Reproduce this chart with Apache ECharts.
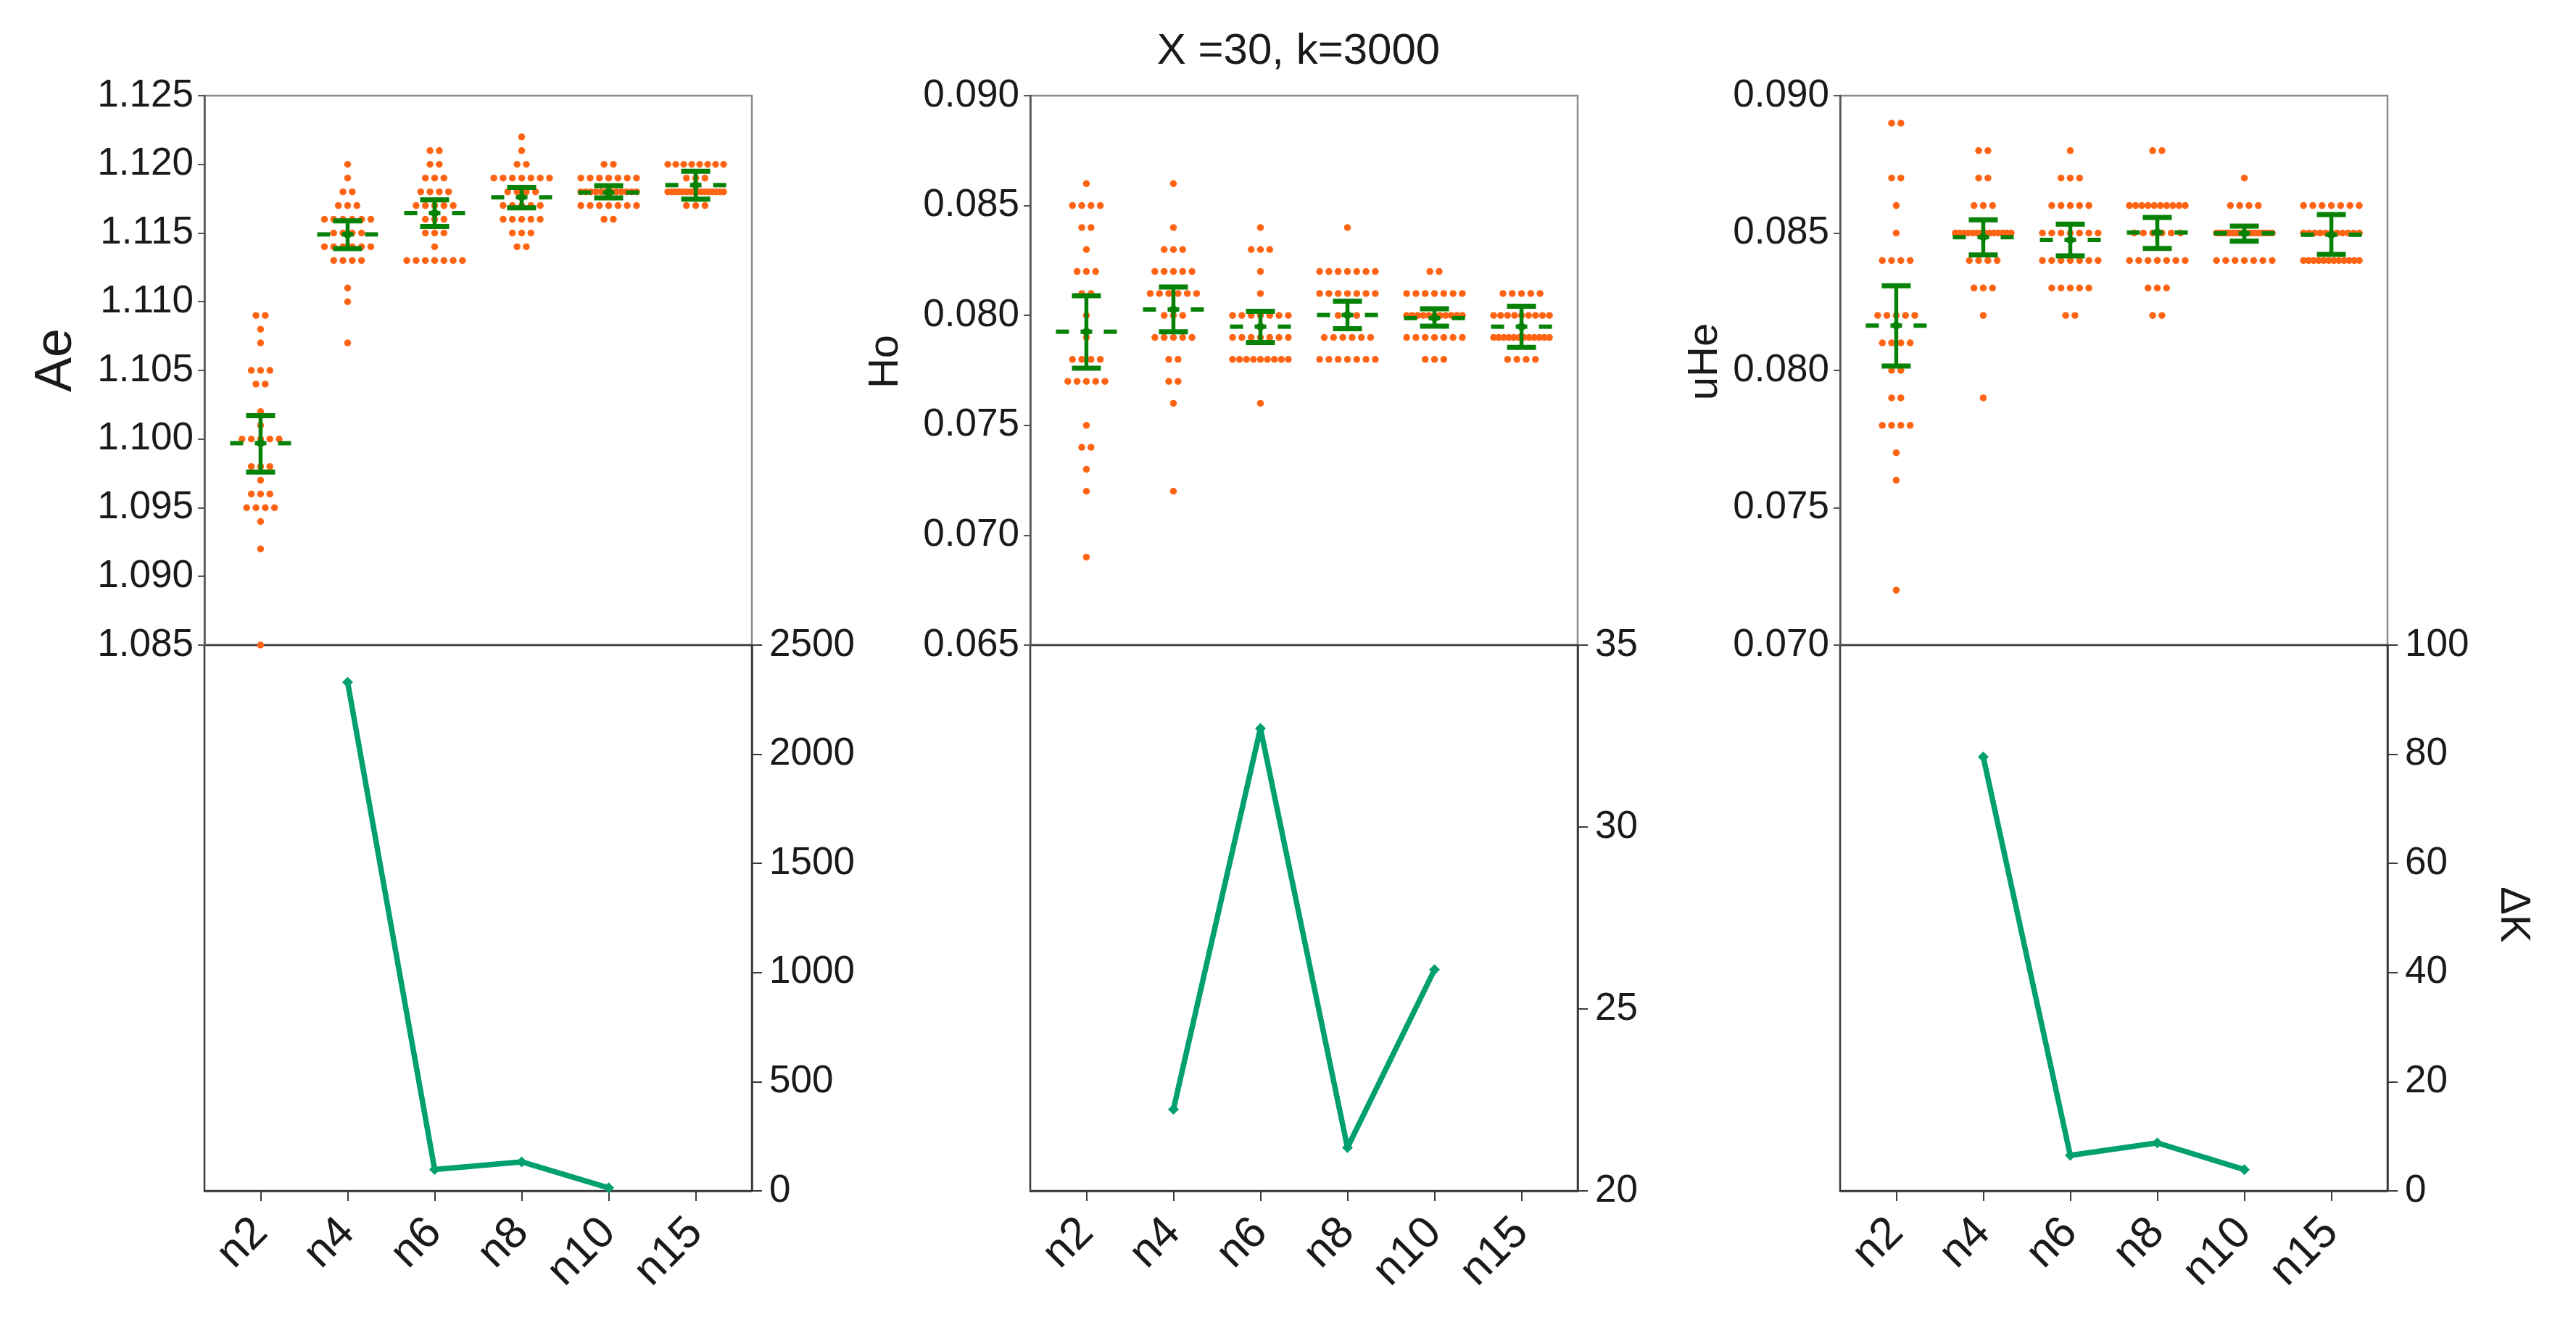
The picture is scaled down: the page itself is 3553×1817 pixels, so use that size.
<!DOCTYPE html>
<html><head><meta charset="utf-8">
<script src="https://cdn.jsdelivr.net/npm/echarts@6/dist/echarts.min.js"></script>
<style>html,body{margin:0;padding:0;background:#fff}#c{width:3553px;height:1817px}</style>
</head><body><div id="c"></div>
<script>
// ---------- data ----------
const categories = ['n2', 'n4', 'n6', 'n8', 'n10', 'n15'];
const titleText = 'X =30, k=3000';

// swarm levels per group: [value, number of points at that value]
const aeSwarm = [
  [[1.109,2],[1.108,1],[1.107,1],[1.105,3],[1.104,2],[1.102,1],[1.101,1],[1.100,5],[1.098,3],[1.097,1],[1.096,3],[1.095,4],[1.094,1],[1.092,1],[1.085,1]],
  [[1.120,1],[1.119,1],[1.118,2],[1.117,3],[1.116,6],[1.115,4],[1.114,6],[1.113,4],[1.111,1],[1.110,1],[1.107,1]],
  [[1.121,2],[1.120,2],[1.119,3],[1.118,4],[1.117,5],[1.116,3],[1.115,3],[1.114,1],[1.113,7]],
  [[1.122,1],[1.121,1],[1.120,2],[1.119,7],[1.118,4],[1.117,5],[1.116,5],[1.115,3],[1.114,2]],
  [[1.120,2],[1.119,7],[1.118,12],[1.117,7],[1.116,2]],
  [[1.120,8],[1.119,3],[1.118,16],[1.117,3]]
];
const hoSwarm = [
  [[0.086,1],[0.085,4],[0.084,2],[0.083,1],[0.082,3],[0.081,2],[0.080,1],[0.079,1],[0.078,4],[0.077,5],[0.075,1],[0.074,2],[0.073,1],[0.072,1],[0.069,1]],
  [[0.086,1],[0.084,1],[0.083,3],[0.082,5],[0.081,6],[0.080,3],[0.079,5],[0.078,2],[0.077,2],[0.076,1],[0.072,1]],
  [[0.084,1],[0.083,3],[0.082,1],[0.081,1],[0.080,7],[0.079,7],[0.078,9],[0.076,1]],
  [[0.084,1],[0.082,7],[0.081,7],[0.080,3],[0.079,6],[0.078,7]],
  [[0.082,2],[0.081,7],[0.080,11],[0.079,7],[0.078,3]],
  [[0.081,5],[0.080,9],[0.079,12],[0.078,4]]
];
const uheSwarm = [
  [[0.089,2],[0.087,2],[0.086,1],[0.085,1],[0.084,4],[0.082,5],[0.081,4],[0.080,2],[0.079,2],[0.078,4],[0.077,1],[0.076,1],[0.072,1]],
  [[0.088,2],[0.087,2],[0.086,3],[0.085,14],[0.084,4],[0.083,3],[0.082,1],[0.079,1]],
  [[0.088,1],[0.087,3],[0.086,5],[0.085,7],[0.084,7],[0.083,5],[0.082,2]],
  [[0.088,2],[0.086,10],[0.085,6],[0.084,7],[0.083,3],[0.082,2]],
  [[0.087,1],[0.086,4],[0.085,18],[0.084,7]],
  [[0.086,7],[0.085,11],[0.084,12]]
];

// mean and error-bar ends per group
const aeMean  = [1.0997, 1.1149, 1.11645, 1.1176, 1.11795, 1.11849];
const aeLow   = [1.0976, 1.11386, 1.11548, 1.11684, 1.11756, 1.11747];
const aeHigh  = [1.1017, 1.11589, 1.11742, 1.11832, 1.11844, 1.1195];
const hoMean  = [0.07926, 0.08027, 0.07949, 0.08002, 0.07988, 0.07949];
const hoLow   = [0.0776, 0.07926, 0.07877, 0.0794, 0.07951, 0.07855];
const hoHigh  = [0.0809, 0.08129, 0.08019, 0.08065, 0.0803, 0.08042];
const uheMean = [0.08163, 0.08485, 0.08475, 0.08502, 0.08499, 0.08494];
const uheLow  = [0.08016, 0.0842, 0.08417, 0.08444, 0.0847, 0.08422];
const uheHigh = [0.08308, 0.08548, 0.08532, 0.08557, 0.08525, 0.08567];

// Delta K per group (null = not drawn)
const dkAe  = [null, 2330, 98, 133, 14, null];
const dkHo  = [null, 22.24, 32.71, 21.19, 26.08, null];
const dkUhe = [null, 79.5, 6.5, 8.8, 3.9, null];

// axis ranges / tick settings
const aeTicks  = {min: 1.085, max: 1.125, interval: 0.005};
const hoTicks  = {min: 0.065, max: 0.090, interval: 0.005};
const uheTicks = {min: 0.070, max: 0.090, interval: 0.005};
const dkAeTicks  = {min: 0, max: 2500, interval: 500};
const dkHoTicks  = {min: 20, max: 35, interval: 5};
const dkUheTicks = {min: 0, max: 100, interval: 20};

// ---------- layout / style ----------
const FONT = '"Liberation Sans", Arial, Helvetica, sans-serif';
const TXT = '#1a1a1a';
const DOT = '#ff6414';
const ERR = '#078207';
const LINEC = '#03a06f';
const X_MIN = -0.645, X_MAX = 5.645;
const GW = 755;
const LEFTS = [282, 1421, 2538];
const TOP_T = 132, TOP_H = 758, BOT_T = 890, BOT_H = 753;
const PX_PER_UNIT = GW / (X_MAX - X_MIN);
const DOT_GAP = 12.8, MAX_ROW = 77;

function swarmPoints(groups) {
  const pts = [];
  groups.forEach((levels, gi) => {
    levels.forEach(([v, c]) => {
      const sp = c > 1 ? Math.min(DOT_GAP, MAX_ROW / (c - 1)) : 0;
      for (let j = 0; j < c; j++) {
        const off = (j - (c - 1) / 2) * sp;
        pts.push([gi + off / PX_PER_UNIT, v]);
      }
    });
  });
  return pts;
}
function errData(mean, lo, hi) {
  return categories.map((c, i) => [i, mean[i], lo[i], hi[i]]);
}
function lineData(arr) {
  return arr.map((v, i) => v == null ? null : [i, v]).filter(d => d);
}
function renderErr(params, api) {
  const x = api.value(0);
  const pm = api.coord([x, api.value(1)]);
  const pl = api.coord([x, api.value(2)]);
  const ph = api.coord([x, api.value(3)]);
  const cx = pm[0];
  const ln = (x1, y1, x2, y2, w) => ({type: 'line', shape: {x1, y1, x2, y2},
    style: {stroke: ERR, lineWidth: w, lineCap: 'butt'}});
  return {type: 'group', children: [
    ln(cx, ph[1], cx, pl[1], 5.5),
    ln(cx - 20, ph[1], cx + 20, ph[1], 7),
    ln(cx - 20, pl[1], cx + 20, pl[1], 7),
    ln(cx - 42, pm[1], cx - 24, pm[1], 6),
    ln(cx - 8, pm[1], cx + 8, pm[1], 6),
    ln(cx + 24, pm[1], cx + 42, pm[1], 6),
    {type: 'circle', shape: {cx: cx, cy: pm[1], r: 5.5}, style: {fill: ERR}}
  ]};
}

const panels = [
  {swarm: aeSwarm, mean: aeMean, lo: aeLow, hi: aeHigh, yt: aeTicks, dk: dkAe, dkt: dkAeTicks},
  {swarm: hoSwarm, mean: hoMean, lo: hoLow, hi: hoHigh, yt: hoTicks, dk: dkHo, dkt: dkHoTicks},
  {swarm: uheSwarm, mean: uheMean, lo: uheLow, hi: uheHigh, yt: uheTicks, dk: dkUhe, dkt: dkUheTicks}
];

const grid = [], xAxis = [], yAxis = [], series = [];
panels.forEach((p, k) => {
  const gTop = grid.length;
  grid.push({left: LEFTS[k], top: TOP_T, width: GW, height: TOP_H, show: true,
    borderColor: '#8c8c8c', borderWidth: 2.5, backgroundColor: 'transparent'});
  grid.push({left: LEFTS[k], top: BOT_T, width: GW, height: BOT_H, show: true,
    borderColor: '#3a3a3a', borderWidth: 2.5, backgroundColor: 'transparent'});
  const gBot = gTop + 1;
  xAxis.push({type: 'value', gridIndex: gTop, min: X_MIN, max: X_MAX, show: false});
  xAxis.push({type: 'value', gridIndex: gBot, min: X_MIN, max: X_MAX, position: 'bottom',
    axisLine: {show: true, onZero: false, lineStyle: {color: '#3a3a3a', width: 2.5}},
    axisTick: {show: true, customValues: [0,1,2,3,4,5], length: 14, lineStyle: {color: '#3a3a3a', width: 2}},
    axisLabel: {show: true, customValues: [0,1,2,3,4,5], rotate: 45, margin: 48,
      formatter: v => categories[Math.round(v)], fontSize: 62, fontFamily: FONT, color: TXT},
    splitLine: {show: false}});
  yAxis.push({type: 'value', gridIndex: gTop, position: 'left', min: p.yt.min, max: p.yt.max, interval: p.yt.interval,
    axisLine: {show: true, onZero: false, lineStyle: {color: '#555', width: 2.5}},
    axisTick: {show: true, length: 9, lineStyle: {color: '#555', width: 2}},
    axisLabel: {show: true, margin: 15, fontSize: 53, fontFamily: FONT, color: TXT,
      formatter: v => v.toFixed(3)},
    splitLine: {show: false}});
  yAxis.push({type: 'value', gridIndex: gBot, position: 'right', min: p.dkt.min, max: p.dkt.max, interval: p.dkt.interval,
    axisLine: {show: true, onZero: false, lineStyle: {color: '#3a3a3a', width: 2.5}},
    axisTick: {show: true, length: 14, lineStyle: {color: '#3a3a3a', width: 2}},
    axisLabel: {show: true, margin: 24, fontSize: 53, fontFamily: FONT, color: TXT,
      formatter: v => String(Math.round(v))},
    splitLine: {show: false}});
  const xi = 2 * k, yi = 2 * k;
  series.push({type: 'scatter', xAxisIndex: xi, yAxisIndex: yi, data: swarmPoints(p.swarm),
    symbol: 'circle', symbolSize: 9.5, itemStyle: {color: DOT, opacity: 1}, z: 2, silent: true});
  series.push({type: 'custom', xAxisIndex: xi, yAxisIndex: yi, data: errData(p.mean, p.lo, p.hi),
    renderItem: renderErr, z: 3, silent: true});
  series.push({type: 'line', xAxisIndex: xi + 1, yAxisIndex: yi + 1, data: lineData(p.dk),
    symbol: 'diamond', symbolSize: 15, lineStyle: {color: LINEC, width: 7.5},
    itemStyle: {color: LINEC}, z: 3, silent: true});
});

const chart = echarts.init(document.getElementById('c'), null, {renderer: 'canvas'});
chart.setOption({
  animation: false,
  backgroundColor: '#ffffff',
  title: {text: titleText, left: 1786, top: 36, textAlign: 'center',
    textStyle: {fontSize: 60, fontWeight: 'normal', fontFamily: FONT, color: TXT}},
  grid, xAxis, yAxis, series,
  graphic: [
    {type: 'text', x: 78, y: 497, rotation: Math.PI / 2,
      style: {text: 'Ae', fontSize: 72, fontFamily: FONT, fill: TXT, align: 'center', verticalAlign: 'middle'}},
    {type: 'text', x: 1222, y: 499, rotation: Math.PI / 2,
      style: {text: 'Ho', fontSize: 58, fontFamily: FONT, fill: TXT, align: 'center', verticalAlign: 'middle'}},
    {type: 'text', x: 2352, y: 499, rotation: Math.PI / 2,
      style: {text: 'uHe', fontSize: 58, fontFamily: FONT, fill: TXT, align: 'center', verticalAlign: 'middle'}},
    {type: 'text', x: 3466, y: 1262, rotation: -Math.PI / 2,
      style: {text: 'ΔK', fontSize: 58, fontFamily: FONT, fill: TXT, align: 'center', verticalAlign: 'middle'}}
  ]
});
</script></body></html>
